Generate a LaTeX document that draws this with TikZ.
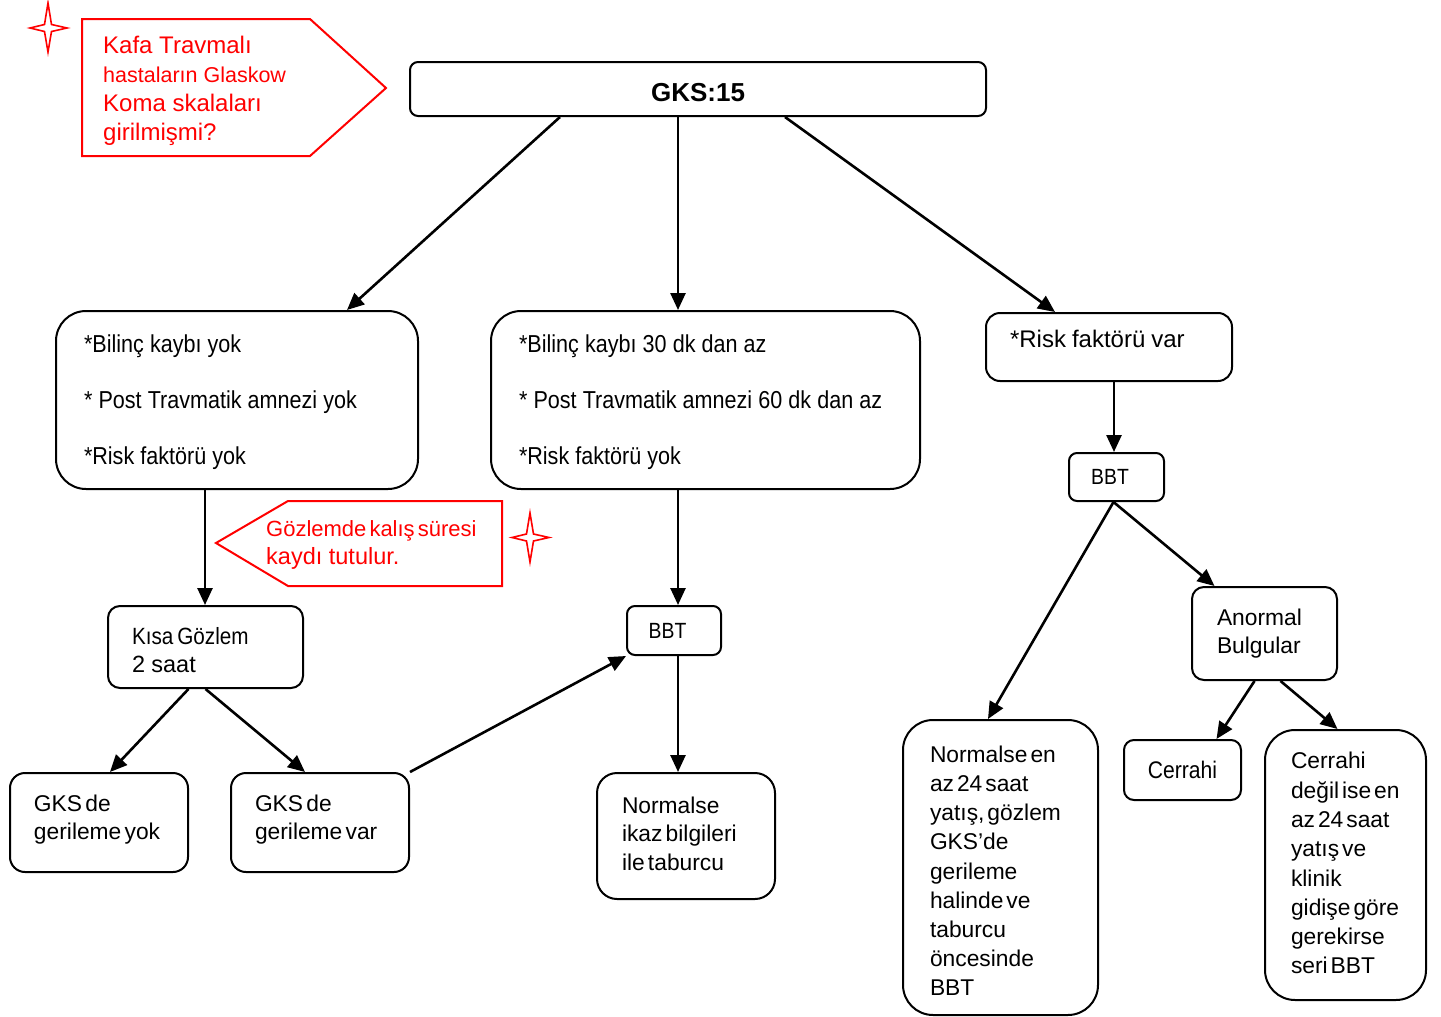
\documentclass[tikz,border=0pt]{standalone}
\usepackage{fontspec}
\setmainfont{Liberation Sans}
\newfontfamily\cnd[FakeStretch=0.88]{Liberation Sans}
\newfontfamily\nrm{Liberation Sans}
\usetikzlibrary{arrows.meta,calc}
\definecolor{rd}{RGB}{255,0,0}
\def\myws{0.13em}
\newcommand\tl[1]{\mbox{\spaceskip=\myws\relax#1}}
\begin{document}
\begin{tikzpicture}[x=1pt,y=-1pt,
  bx/.style={draw, line width=2pt, rounded corners=#1, align=left, inner ysep=0pt},
  arr/.style={line width=2.6pt, -{Triangle[length=17pt,width=15pt]}},
  nf/.style={font=\fontsize{22.8pt}{28.5pt}\selectfont\def\myws{0.14em}},
  cf/.style={font=\cnd\fontsize{24.5pt}{28pt}\selectfont\def\myws{0.25em}},
  rt/.style={text=rd, align=left, anchor=west, inner sep=0pt},
  rbox/.style={draw=rd, line width=2pt, line join=miter},
  star/.style={draw=rd, line width=1.6pt, fill=white}]
\useasboundingbox (0,0) rectangle (1441,1017);

% red note 1
\draw[rbox] (82,19) -- (310,19) -- (386,88) -- (310,156) -- (82,156) -- cycle;
\node[rt, font=\fontsize{24pt}{29pt}\selectfont] (note1) at (103,91)
  {Kafa Travmalı\\{\fontsize{21.5pt}{29pt}\selectfont hastaların Glaskow}\\Koma skalaları\\girilmişmi?};
\draw[star] (48,3) -- (51.5,24.5) -- (67,28) -- (51.5,31.5) -- (48,52) -- (44.5,31.5) -- (30,28) -- (44.5,24.5) -- cycle;

% red note 2
\draw[rbox] (216,543) -- (288,501) -- (502,501) -- (502,586) -- (288,586) -- cycle;
\node[rt, font=\fontsize{22pt}{28pt}\selectfont\def\myws{0.14em}] (note2) at (266,545)
  {\tl{Gözlemde kalış süresi}\\{\fontsize{23.5pt}{28pt}\selectfont kaydı tutulur.}};
\draw[star] (530,513) -- (533.5,534) -- (549,537.5) -- (533.5,541) -- (530,562) -- (526.5,541) -- (512,537.5) -- (526.5,534) -- cycle;

% top
\node[bx=8pt, minimum width=576pt, minimum height=54pt, align=center, text height=25pt, text depth=0pt,
  font=\bfseries\fontsize{26pt}{30pt}\selectfont] (gks) at (698,89) {GKS:15};

% level 2
\node[bx=30pt, cf, minimum width=362pt, minimum height=178pt, text width=306pt, inner xsep=28pt, text height=22pt] (A) at (237,400)
  {\tl{*Bilinç kaybı yok}\\[28pt]\tl{* Post Travmatik amnezi yok}\\[28pt]\tl{*Risk faktörü yok}};
\node[bx=30pt, cf, minimum width=429pt, minimum height=178pt, text width=373pt, inner xsep=28pt, text height=22pt] (B) at (705.5,400)
  {\tl{*Bilinç kaybı 30 dk dan az}\\[28pt]\tl{* Post Travmatik amnezi 60 dk dan az}\\[28pt]\tl{*Risk faktörü yok}};
\node[bx=14pt, font=\fontsize{24pt}{28pt}\selectfont\def\myws{0.25em}, minimum width=246pt, minimum height=68pt, text width=198pt, inner xsep=24pt, text depth=17pt] (C) at (1109,347)
  {\tl{*Risk faktörü var}};

% left branch
\node[bx=12pt, font=\cnd\fontsize{23.5pt}{28pt}\selectfont\def\myws{0.17em}, minimum width=195pt, minimum height=82pt, text width=147pt, inner xsep=24pt, text height=23pt] (kisa) at (205.5,647)
  {\tl{Kısa Gözlem}\\{\nrm\fontsize{23.5pt}{28pt}\selectfont\def\myws{0.27em}\tl{2 saat}}};
\node[bx=15pt, nf, minimum width=178pt, minimum height=99pt, text width=130pt, inner xsep=24pt, text height=11pt] (gyok) at (99,822.5)
  {\tl{GKS de}\\\tl{gerileme yok}};
\node[bx=15pt, nf, minimum width=178pt, minimum height=99pt, text width=130pt, inner xsep=24pt, text height=11pt] (gvar) at (320,822.5)
  {\tl{GKS de}\\\tl{gerileme var}};

% middle branch
\node[bx=8pt, font=\cnd\fontsize{22pt}{26pt}\selectfont, minimum width=94pt, minimum height=49pt, align=center] (bbtm) at (674,630.5) {\hspace*{-13pt}BBT};
\node[bx=20pt, nf, minimum width=178pt, minimum height=126pt, text width=128pt, inner xsep=25pt, text height=12pt] (ikaz) at (686,836)
  {\tl{Normalse}\\\tl{ikaz bilgileri}\\\tl{ile taburcu}};

% right branch
\node[bx=8pt, font=\cnd\fontsize{22pt}{26pt}\selectfont, minimum width=95pt, minimum height=48pt, align=center] (bbtr) at (1116.5,477) {\hspace*{-13pt}BBT};
\node[bx=12pt, nf, minimum width=145pt, minimum height=93pt, text width=95pt, inner xsep=25pt] (anor) at (1264.5,633.5)
  {\tl{Anormal}\\\tl{Bulgular}};
\node[bx=10pt, font=\cnd\fontsize{24pt}{28pt}\selectfont, minimum width=117pt, minimum height=60pt, align=center] (cer) at (1182.5,770) {Cerrahi};
\node[bx=30pt, nf, font=\fontsize{22.8pt}{29.1pt}\selectfont, minimum width=195pt, minimum height=295pt, text width=141pt, inner xsep=27pt, text height=23pt] (nen) at (1000.5,867.5)
  {\tl{Normalse en}\\\tl{az 24 saat}\\\tl{yatış, gözlem}\\\tl{GKS’de}\\\tl{gerileme}\\\tl{halinde ve}\\\tl{taburcu}\\\tl{öncesinde}\\\tl{BBT}};
\node[bx=30pt, nf, font=\fontsize{22.8pt}{29.3pt}\selectfont, minimum width=161pt, minimum height=270pt, text width=109pt, inner xsep=26pt, text height=13pt] (cdeg) at (1345.5,865)
  {\tl{Cerrahi}\\\tl{değil ise en}\\\tl{az 24 saat}\\\tl{yatış ve}\\\tl{klinik}\\\tl{gidişe göre}\\\tl{gerekirse}\\\tl{seri BBT}};

% connectors
\draw[arr] ([xshift=-138pt]gks.south) -- ([xshift=110pt]A.north);
\draw[arr] ([xshift=-20pt]gks.south) -- ([xshift=-27.5pt]B.north);
\draw[arr] ([xshift=87pt]gks.south) -- ([xshift=-54pt]C.north);
\draw[arr] ([xshift=-32pt]A.south) -- ([xshift=-0.5pt]kisa.north);
\draw[arr] ([xshift=-27.5pt]B.south) -- ([xshift=4pt]bbtm.north);
\draw[arr] ([xshift=-17pt]kisa.south) -- ([xshift=11pt]gyok.north);
\draw[arr] (kisa.south) -- ([xshift=-15pt]gvar.north);
\draw[arr] (gvar.north east) -- (bbtm.south west);
\draw[arr] ([xshift=4pt]bbtm.south) -- ([xshift=-8pt]ikaz.north);
\draw[arr] ([xshift=5pt]C.south) -- ([xshift=-2.5pt]bbtr.north);
\draw[arr] ([xshift=-3pt]bbtr.south) -- ([xshift=-12.5pt]nen.north);
\draw[arr] ([xshift=-3pt]bbtr.south) -- ([xshift=-50pt]anor.north);
\draw[arr] ([xshift=-10pt]anor.south) -- ([xshift=34pt]cer.north);
\draw[arr] ([xshift=16pt]anor.south) -- ([xshift=-8pt]cdeg.north);
\end{tikzpicture}
\end{document}
